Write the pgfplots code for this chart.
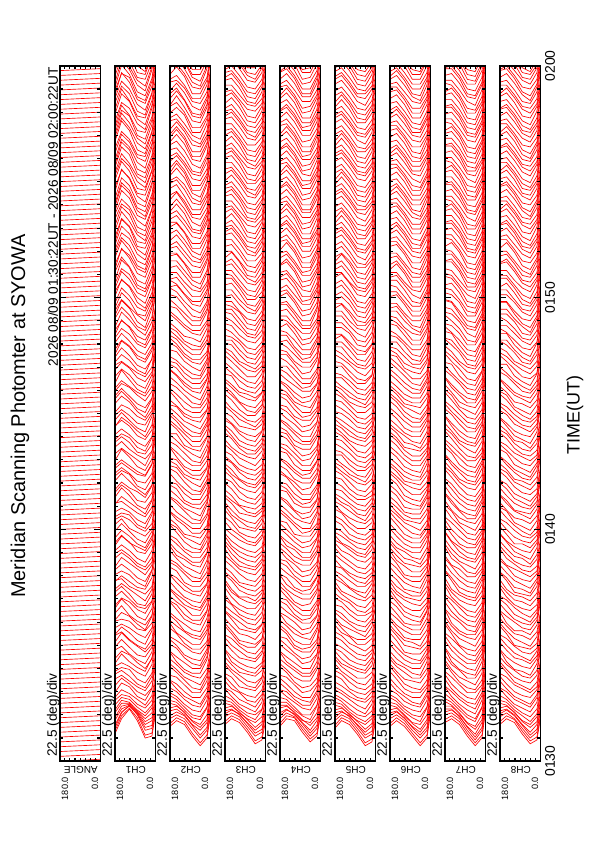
\documentclass[border=0pt]{standalone}
\usepackage{pgfplots}
\usepackage{pgfplotstable}
\pgfplotsset{compat=1.18}
\usepackage{fontspec}
\setmainfont{Liberation Sans}

% Each row is one scan; columns are the scan angles (deg).
% Values: deflection of the trace above its scan time, in units of 5 s.
% Tables ...a hold the scans at 0, 25, 50 s ...; tables ...b the scans 12.5 s later.
\pgfplotstableread[header=has colnames]{
180 150 115 80 45 15 0
14 22 27 21 12 13 24
12 20 24 19 11 12 22
11 17 19 15 9 11 21
10 15 15 11 7 10 22
9 13 12 8 5 9 20
8 12 10 7 4 9 19
9 13 10 6 4 8 21
10 12 9 5 3 9 20
9 11 9 6 4 10 22
8 12 10 6 3 8 19
9 13 9 5 4 9 20
10 12 8 5 3 8 21
9 11 9 6 4 9 18
8 12 10 6 3 10 20
9 14 10 5 3 9 22
10 13 9 5 4 8 20
9 12 9 6 3 9 19
8 11 8 5 4 10 21
9 12 9 5 3 9 20
10 13 10 6 4 8 22
9 12 9 5 3 9 19
8 12 8 6 4 10 20
9 13 9 5 3 9 21
10 12 10 6 4 8 20
9 11 9 5 3 9 22
8 12 9 6 3 10 19
9 13 10 5 4 9 20
10 14 10 6 3 8 21
9 12 9 5 4 9 20
8 11 8 5 3 9 22
9 12 9 6 3 10 19
10 13 10 5 4 9 21
9 12 9 5 3 8 20
8 13 10 6 3 9 22
9 12 9 5 4 10 20
10 14 11 6 3 9 21
9 13 9 5 3 8 19
8 12 9 6 4 9 20
9 13 10 5 3 10 22
10 12 9 6 4 9 21
9 14 10 5 3 8 20
8 13 10 5 3 9 22
9 14 11 6 4 10 21
8 13 10 5 3 9 20
9 15 11 5 3 10 23
8 14 10 6 3 11 22
7 15 11 5 3 10 24
8 14 11 5 2 11 22
7 15 12 5 3 10 23
8 16 11 4 2 11 25
7 15 12 5 3 12 23
8 16 12 4 2 11 24
7 17 13 5 2 12 25
6 16 12 4 3 11 23
7 17 13 4 2 12 24
8 16 12 5 2 11 25
7 18 14 5 2 12 23
6 17 13 4 2 13 24
7 16 12 4 3 12 25
8 17 13 5 2 11 24
7 18 14 4 2 12 23
6 17 13 5 2 13 25
7 16 12 4 3 12 24
8 18 13 5 2 11 23
7 17 14 4 2 12 25
6 16 13 5 2 13 24
7 18 12 4 3 12 23
8 17 13 5 2 11 25
7 16 14 4 2 12 24
6 18 13 5 2 13 23
7 17 12 4 3 12 25
8 16 13 5 2 11 24
}\rawAa
\pgfplotstableread[header=has colnames]{
180 150 115 80 45 15 0
13 21 25 20 11 12 23
11 18 21 17 10 11 22
10 16 17 13 8 10 21
9 14 13 9 6 10 21
9 12 11 7 5 9 19
8 13 11 6 4 10 21
10 12 9 6 4 9 20
9 11 10 5 3 8 22
8 13 9 6 4 11 19
10 12 8 5 3 9 21
9 14 10 7 4 8 20
8 12 9 5 3 10 23
10 11 10 6 5 9 19
9 13 8 5 3 8 21
8 12 10 6 4 10 20
10 13 9 4 3 9 22
11 12 8 6 4 8 19
9 11 9 5 3 11 21
8 13 10 7 4 9 23
10 12 9 5 3 8 20
9 14 11 6 5 10 21
8 12 9 5 3 9 19
10 13 8 6 4 8 22
9 11 10 5 3 10 20
11 12 9 6 4 9 21
9 14 10 5 3 8 23
8 12 9 7 4 10 20
10 13 11 5 3 9 21
9 12 9 6 5 11 19
8 14 10 5 3 9 22
10 13 9 6 4 8 20
9 12 10 5 3 10 21
11 14 11 6 4 9 23
9 13 9 5 3 11 20
8 12 10 6 4 9 22
10 14 10 5 3 10 21
9 13 11 7 4 9 20
8 15 10 5 3 10 23
10 14 11 6 4 9 21
9 13 10 5 3 11 22
8 15 12 6 4 10 20
9 14 10 5 3 9 23
8 16 12 5 3 11 22
7 15 11 6 3 10 24
8 16 12 5 2 12 23
7 15 11 4 3 11 25
8 17 13 5 2 10 23
7 16 12 5 3 12 24
6 17 13 4 2 11 25
7 18 13 5 3 12 23
8 17 12 4 2 13 24
7 16 13 5 2 12 25
6 18 14 4 3 11 24
7 17 12 5 2 12 23
8 16 13 4 2 13 25
7 18 14 5 3 12 24
6 17 13 4 2 11 23
7 19 14 5 2 12 25
8 18 13 4 3 13 24
7 17 12 5 2 12 23
6 18 14 4 2 11 25
7 17 13 5 3 12 24
8 19 14 4 2 13 23
7 18 13 5 2 12 25
6 17 12 4 3 11 24
7 18 14 5 2 12 23
8 17 13 4 2 13 25
7 19 14 5 3 12 24
6 18 13 4 2 11 23
7 17 12 5 2 12 25
8 18 14 4 3 13 24
7 17 13 5 2 12 23
}\rawAb
\pgfplotstableread[header=has colnames]{
180 150 115 80 45 15 0
18 21 19 13 8 12 23
17 19 17 12 7 11 21
16 17 14 9 6 10 22
15 14 10 6 4 9 20
14 12 8 4 3 8 19
13 11 7 4 3 9 18
12 10 6 3 3 8 19
14 11 7 3 2 9 18
13 10 6 4 3 8 17
12 9 6 3 3 9 19
13 10 5 3 2 8 18
14 11 6 3 3 7 20
13 10 7 4 3 8 18
12 9 6 3 2 9 17
13 11 6 3 3 8 19
14 10 6 4 3 9 18
13 9 5 3 2 8 20
12 10 6 3 3 7 18
13 11 7 3 3 8 19
14 10 6 4 2 9 17
13 9 6 3 3 8 18
12 10 5 3 3 9 20
13 11 6 4 2 8 19
14 10 7 3 3 7 18
13 9 6 3 3 8 17
12 10 6 4 2 9 19
13 11 5 3 3 8 18
14 10 6 3 3 9 20
13 12 7 4 2 8 18
12 11 6 3 3 7 19
13 10 6 3 3 8 17
14 11 7 4 2 9 18
15 12 7 3 3 8 20
14 11 6 3 3 9 19
13 10 6 4 2 8 18
12 9 5 3 3 7 17
13 10 6 3 3 8 19
14 11 7 4 2 9 18
13 10 6 3 3 8 20
12 11 6 3 3 9 18
13 12 7 4 2 8 19
14 11 6 3 3 7 17
13 10 6 3 3 8 18
12 9 5 4 2 9 20
13 10 6 3 3 8 19
14 11 7 3 3 9 18
15 13 8 4 2 8 20
14 12 7 3 3 9 19
13 13 8 4 3 8 21
14 14 9 4 2 9 20
13 13 8 3 3 10 22
12 14 9 4 3 9 20
13 15 10 4 2 10 21
14 14 9 3 3 9 22
13 15 10 4 3 10 20
12 16 11 4 2 9 21
13 15 10 3 3 10 22
14 16 11 4 3 9 20
13 17 12 4 2 10 21
12 16 11 3 3 9 22
13 15 10 4 3 10 20
14 16 11 4 2 9 21
13 17 12 3 3 10 22
12 16 11 4 3 9 20
13 15 10 4 2 10 21
14 16 11 3 3 9 22
13 17 12 4 3 10 20
12 16 11 4 2 9 21
13 15 10 3 3 10 22
14 16 11 4 3 9 20
13 17 12 4 2 10 21
12 16 11 3 3 9 22
}\rawBa
\pgfplotstableread[header=has colnames]{
180 150 115 80 45 15 0
17 20 18 12 7 11 22
16 18 16 11 6 10 21
15 16 13 8 5 9 20
14 13 9 5 4 10 21
13 11 7 4 3 9 19
14 10 6 4 2 8 18
12 11 7 3 3 9 20
13 10 6 4 2 8 17
14 9 5 3 3 10 19
13 11 6 3 2 9 18
12 10 7 4 3 8 20
14 9 6 3 3 9 17
13 10 5 3 2 8 19
15 11 6 4 3 10 18
13 10 7 3 3 9 20
12 9 6 3 2 8 18
14 10 6 4 3 9 19
13 11 5 3 3 8 17
12 10 6 3 2 9 20
14 9 7 4 3 10 18
13 10 6 3 3 8 19
15 11 6 3 2 9 21
13 10 5 4 3 8 18
12 9 6 3 3 9 17
14 11 7 3 2 10 19
13 10 6 4 3 8 20
12 11 6 3 3 9 18
14 12 7 3 2 8 19
13 11 6 4 3 9 21
15 10 5 3 3 8 18
13 11 7 3 2 9 17
12 12 6 4 3 10 19
14 11 7 3 3 9 20
13 10 6 3 2 8 18
12 11 6 4 3 9 19
14 10 5 3 3 8 17
13 11 7 3 2 9 20
15 12 7 4 3 10 18
13 11 6 3 3 8 19
12 10 6 3 2 9 21
14 12 7 4 3 8 18
13 11 6 3 3 9 17
12 10 5 3 2 8 19
14 11 7 4 3 9 20
13 12 7 3 3 10 19
14 13 8 3 2 9 21
13 14 9 4 3 10 20
12 13 8 3 3 9 22
13 14 9 4 2 10 21
14 15 10 3 3 11 20
13 14 9 4 3 10 22
12 15 10 4 2 9 21
14 16 11 3 3 10 20
13 15 10 4 3 11 22
12 16 11 3 2 10 21
13 17 11 4 3 9 23
14 16 10 3 3 10 21
13 15 11 4 2 11 22
12 17 12 3 3 10 20
13 16 11 4 3 9 21
14 15 10 3 2 10 23
13 17 12 4 3 11 21
12 16 11 3 3 10 22
14 15 10 4 2 9 20
13 16 12 3 3 10 21
12 17 11 4 3 11 23
13 16 10 3 2 10 22
14 15 11 4 3 9 20
13 17 12 3 3 10 21
12 16 11 4 2 11 23
13 15 10 3 3 10 22
14 17 12 4 3 9 20
}\rawBb
\pgfplotstableread[header=has colnames]{
180 150 115 80 45 15 0
19 22 20 15 9 11 20
18 20 18 13 8 10 19
16 17 14 10 6 9 18
15 14 10 7 5 8 17
14 12 8 5 4 7 16
13 11 7 5 3 8 17
14 10 6 4 3 7 15
15 11 7 4 3 8 16
14 10 6 5 4 7 17
13 9 6 4 3 6 16
14 10 7 4 3 7 15
15 11 6 4 4 8 17
14 10 6 5 3 7 16
13 10 7 4 3 6 15
14 11 6 4 3 7 17
15 10 6 4 4 8 16
14 9 5 5 3 7 15
13 10 6 4 3 6 17
14 11 7 4 3 7 16
15 10 6 5 4 8 15
14 10 6 4 3 7 17
13 9 6 4 3 6 16
14 10 7 4 3 7 15
15 11 6 5 4 8 17
14 10 6 4 3 7 16
13 10 7 4 3 6 15
14 11 6 4 3 7 17
15 12 7 5 4 8 16
14 11 6 4 3 7 15
13 10 6 4 3 6 17
14 11 7 5 3 7 16
15 12 7 4 4 8 15
14 11 6 4 3 7 17
13 10 6 4 3 6 16
14 11 7 5 3 7 15
15 12 7 4 4 8 17
14 11 6 4 3 7 16
13 10 6 5 3 6 15
14 11 7 4 3 7 17
15 12 8 4 4 8 16
14 12 7 5 3 7 17
13 13 8 4 3 8 18
14 12 8 4 3 7 17
15 13 9 5 4 8 18
14 14 9 4 3 9 19
13 13 8 4 3 8 18
14 14 9 5 3 9 19
15 15 10 4 4 8 18
14 14 9 4 3 9 19
13 15 10 5 3 8 18
14 14 9 4 3 9 19
15 15 10 4 4 8 18
14 16 11 5 3 9 19
13 15 10 4 3 8 18
14 16 11 4 3 9 19
15 15 10 5 4 8 18
14 16 11 4 3 9 19
13 15 10 4 3 8 18
14 16 11 5 3 9 19
15 15 10 4 4 8 18
14 16 11 4 3 9 19
13 15 10 5 3 8 18
14 16 11 4 3 9 19
15 15 10 4 4 8 18
14 16 11 5 3 9 19
13 15 10 4 3 8 18
14 16 11 4 3 9 19
15 15 10 5 4 8 18
14 16 11 4 3 9 19
13 15 10 4 3 8 18
14 16 11 5 3 9 19
15 15 10 4 4 8 18
}\rawCa
\pgfplotstableread[header=has colnames]{
180 150 115 80 45 15 0
18 21 19 14 8 10 21
17 19 17 12 7 9 18
15 16 13 9 5 8 19
14 13 9 6 4 9 16
15 11 7 5 3 8 17
14 10 8 4 3 7 16
13 11 6 5 4 8 15
14 10 7 4 3 6 17
15 9 6 4 3 7 16
14 10 6 5 4 8 15
13 11 7 4 3 7 17
14 10 5 4 3 6 16
15 11 6 5 4 8 15
13 10 7 4 3 7 17
14 9 6 4 3 8 16
15 10 7 5 4 7 15
14 11 6 4 3 6 17
13 10 5 4 3 7 16
14 11 7 5 4 8 15
15 10 6 4 3 7 17
14 9 6 4 3 6 16
13 10 7 5 4 8 15
14 11 6 4 3 7 17
15 10 7 4 3 8 16
14 11 6 5 4 7 15
13 10 5 4 3 6 17
14 12 7 4 3 7 16
15 11 8 5 4 8 15
14 12 7 4 3 7 17
13 11 6 4 3 6 16
14 10 7 5 4 8 15
15 11 6 4 3 7 17
14 12 7 4 3 8 16
13 11 6 5 4 7 15
14 10 7 4 3 6 17
15 12 8 4 3 7 16
14 11 7 5 4 8 15
13 12 6 4 3 7 17
14 11 7 4 3 8 16
15 12 8 5 4 7 17
14 13 8 4 3 8 18
13 12 9 4 3 7 17
14 13 8 5 4 8 18
15 14 9 4 3 9 19
14 13 10 4 3 8 18
13 14 9 5 4 9 19
14 15 10 4 3 8 18
15 14 9 4 3 9 19
14 15 10 5 4 8 18
13 16 11 4 3 9 19
14 15 10 4 3 8 18
15 16 11 5 4 9 19
14 15 10 4 3 8 18
13 16 11 4 3 9 19
14 15 10 5 4 8 18
15 16 11 4 3 9 19
14 15 10 4 3 8 18
13 16 11 5 4 9 19
14 15 10 4 3 8 18
15 16 11 4 3 9 19
14 15 10 5 4 8 18
13 16 11 4 3 9 19
14 15 10 4 3 8 18
15 16 11 5 4 9 19
14 15 10 4 3 8 18
13 16 11 4 3 9 19
14 15 10 5 4 8 18
15 16 11 4 3 9 19
14 15 10 4 3 8 18
13 16 11 5 4 9 19
14 15 10 4 3 8 18
15 16 11 4 3 9 19
}\rawCb
\pgfplotstableread[header=has colnames]{
180 150 115 80 45 15 0
18 22 21 15 10 13 23
17 20 18 13 8 12 21
15 17 14 10 6 11 20
14 14 10 6 5 10 19
13 12 8 4 4 9 18
12 11 7 4 4 10 19
13 10 6 3 3 9 18
14 11 6 3 4 8 17
13 10 7 4 4 9 19
12 9 6 3 3 10 18
13 10 6 3 4 9 20
14 11 5 3 4 8 18
13 10 6 4 3 9 17
12 10 7 3 4 10 19
13 11 6 3 4 9 18
14 10 6 3 3 8 20
13 9 6 4 4 9 18
12 10 5 3 4 10 17
13 11 6 3 3 9 19
14 10 7 3 4 8 18
13 10 6 4 4 9 20
12 9 6 3 3 10 18
13 10 6 3 4 9 17
14 11 7 3 4 8 19
13 10 6 4 3 9 18
12 10 5 3 4 10 20
13 11 6 3 4 9 18
14 12 7 3 3 8 17
13 11 6 4 4 9 19
12 10 6 3 4 10 18
13 11 7 3 3 9 20
14 12 7 3 4 8 18
13 11 6 4 4 9 17
12 10 6 3 3 10 19
13 11 7 3 4 9 18
14 12 7 3 4 8 20
13 11 6 4 3 9 18
12 10 6 3 4 10 17
13 11 7 3 4 9 19
14 12 8 3 3 8 18
13 12 7 4 4 9 20
12 13 8 3 4 10 19
13 12 8 3 3 9 20
14 13 9 3 4 10 21
13 14 9 4 4 9 20
12 13 8 3 3 10 21
13 14 9 3 4 11 22
14 15 10 3 4 10 21
13 14 9 4 3 11 20
12 15 10 3 4 10 22
13 14 9 3 4 11 21
14 15 10 3 3 10 20
13 16 11 4 4 11 22
12 15 10 3 4 10 21
13 16 11 3 3 11 20
14 15 10 3 4 10 22
13 16 11 4 4 11 21
12 15 10 3 3 10 20
13 16 11 3 4 11 22
14 15 10 3 4 10 21
13 16 11 4 3 11 20
12 15 10 3 4 10 22
13 16 11 3 4 11 21
14 15 10 3 3 10 20
13 16 11 4 4 11 22
12 15 10 3 4 10 21
13 16 11 3 3 11 20
14 15 10 3 4 10 22
13 16 11 4 4 11 21
12 15 10 3 3 10 20
13 16 11 3 4 11 22
14 15 10 3 4 10 21
}\rawDa
\pgfplotstableread[header=has colnames]{
180 150 115 80 45 15 0
17 21 20 14 9 12 22
16 19 17 12 7 11 20
15 16 13 9 6 10 21
13 13 9 6 4 11 19
14 11 8 5 4 10 18
13 10 6 4 3 9 20
12 11 7 3 4 8 18
13 10 6 4 4 10 17
14 9 6 3 3 9 19
13 10 7 3 4 8 18
12 11 6 4 4 9 20
13 10 5 3 3 10 18
14 9 6 3 4 9 17
13 10 7 4 4 8 19
12 11 6 3 3 9 18
13 10 5 3 4 10 20
14 9 6 4 4 9 18
13 10 7 3 3 8 17
12 11 6 3 4 9 19
13 10 6 4 4 10 18
14 9 7 3 3 9 20
13 10 6 3 4 8 18
12 11 5 4 4 9 17
13 10 6 3 3 10 19
14 11 7 3 4 9 18
13 12 6 4 4 8 20
12 11 6 3 3 9 18
13 10 7 3 4 10 17
14 11 7 4 4 9 19
13 12 6 3 3 8 18
12 11 7 3 4 9 20
13 12 6 4 4 10 18
14 11 7 3 3 9 17
13 10 7 3 4 8 19
12 11 6 4 4 9 18
13 12 7 3 3 10 20
14 11 6 3 4 9 18
13 10 7 4 4 8 17
12 12 7 3 3 9 19
13 13 8 3 4 10 20
14 12 8 4 4 9 19
13 13 7 3 3 10 21
12 14 9 3 4 9 20
13 13 8 4 4 10 21
14 14 9 3 3 11 22
13 15 10 3 4 10 21
12 14 9 4 4 11 20
13 15 10 3 3 10 22
14 16 11 3 4 11 21
13 15 10 4 4 10 20
12 16 11 3 3 11 22
13 15 10 3 4 10 21
14 16 11 4 4 11 20
13 15 10 3 3 10 22
12 16 11 3 4 11 21
13 15 10 4 4 10 20
14 16 11 3 3 11 22
13 15 10 3 4 10 21
12 16 11 4 4 11 20
13 15 10 3 3 10 22
14 16 11 3 4 11 21
13 15 10 4 4 10 20
12 16 11 3 3 11 22
13 15 10 3 4 10 21
14 16 11 4 4 11 20
13 15 10 3 3 10 22
12 16 11 3 4 11 21
13 15 10 4 4 10 20
14 16 11 3 3 11 22
13 15 10 3 4 10 21
12 16 11 4 4 11 20
}\rawDb
\pgfplotstableread[header=has colnames]{
180 150 115 80 45 15 0
17 21 19 14 8 10 20
16 19 17 12 7 9 19
15 16 13 9 5 8 18
14 13 9 6 4 7 17
13 11 7 4 3 6 16
12 10 7 4 2 7 15
11 9 6 3 2 6 16
12 10 6 3 2 5 15
13 9 6 3 3 6 14
12 8 5 3 2 7 16
11 9 6 3 2 6 15
12 10 6 4 2 5 17
13 9 5 3 3 6 15
12 9 6 3 2 7 14
11 10 6 3 2 6 16
12 9 7 3 2 5 15
13 8 6 4 3 6 17
12 9 5 3 2 7 15
11 10 6 3 2 6 14
12 9 6 3 2 5 16
13 9 7 4 3 6 15
12 8 6 3 2 7 17
11 9 5 3 2 6 15
12 10 6 3 2 5 14
13 9 6 4 3 6 16
12 9 7 3 2 7 15
11 10 6 3 2 6 17
12 11 6 3 2 5 15
13 10 7 4 3 6 14
12 9 6 3 2 7 16
11 10 6 3 2 6 15
12 11 7 3 2 5 17
13 10 6 4 3 6 15
12 9 6 3 2 7 14
11 10 7 3 2 6 16
12 11 7 3 2 5 15
13 10 6 4 3 6 17
12 9 6 3 2 7 15
11 10 7 3 2 6 14
12 11 7 3 2 5 16
13 11 7 4 3 6 15
12 12 8 3 2 7 17
11 11 7 3 2 6 16
12 12 8 3 2 7 17
13 13 8 4 3 8 18
12 12 8 3 2 7 17
11 13 9 3 2 8 18
12 14 9 3 2 7 17
13 13 8 4 3 8 18
12 14 9 3 2 7 17
11 13 9 3 2 8 18
12 14 9 3 2 7 17
13 15 10 4 3 8 18
12 14 9 3 2 7 17
11 15 10 3 2 8 18
12 14 9 3 2 7 17
13 15 10 4 3 8 18
12 14 9 3 2 7 17
11 15 10 3 2 8 18
12 14 9 3 2 7 17
13 15 10 4 3 8 18
12 14 9 3 2 7 17
11 15 10 3 2 8 18
12 14 9 3 2 7 17
13 15 10 4 3 8 18
12 14 9 3 2 7 17
11 15 10 3 2 8 18
12 14 9 3 2 7 17
13 15 10 4 3 8 18
12 14 9 3 2 7 17
11 15 10 3 2 8 18
12 14 9 3 2 7 17
}\rawEa
\pgfplotstableread[header=has colnames]{
180 150 115 80 45 15 0
16 20 18 13 7 9 19
15 18 16 11 6 8 18
14 15 12 8 4 7 17
13 12 8 5 3 6 16
12 10 7 4 2 7 15
11 9 6 4 3 6 16
12 10 5 3 2 5 14
13 9 6 3 2 6 16
12 8 6 4 3 7 15
11 9 5 3 2 6 14
12 10 6 3 2 5 16
13 9 7 3 3 6 15
12 8 6 4 2 7 17
11 9 5 3 2 6 15
12 10 6 3 3 5 14
13 9 6 3 2 6 16
12 10 7 4 2 7 15
11 9 6 3 3 6 17
12 8 5 3 2 5 15
13 9 6 3 2 6 14
12 10 7 4 3 7 16
11 9 6 3 2 6 15
12 10 5 3 2 5 17
13 11 6 3 3 6 15
12 10 7 4 2 7 14
11 9 6 3 2 6 16
12 10 6 3 3 5 15
13 11 7 3 2 6 17
12 10 6 4 2 7 15
11 11 6 3 3 6 14
12 10 7 3 2 5 16
13 11 7 3 2 6 15
12 10 6 4 3 7 17
11 9 6 3 2 6 15
12 10 7 3 2 5 14
13 11 7 3 3 6 16
12 10 6 4 2 7 15
11 11 7 3 2 6 17
12 12 7 3 3 7 16
13 11 8 4 2 6 17
12 12 7 3 2 7 16
11 13 8 3 3 8 17
12 12 9 3 2 7 18
13 13 8 4 2 8 17
12 14 9 3 3 7 18
11 13 9 3 2 8 17
12 14 9 3 2 7 18
13 15 10 4 3 8 17
12 14 9 3 2 7 18
11 15 10 3 2 8 17
12 14 9 3 3 7 18
13 15 10 4 2 8 17
12 14 9 3 2 7 18
11 15 10 3 3 8 17
12 14 9 3 2 7 18
13 15 10 4 2 8 17
12 14 9 3 3 7 18
11 15 10 3 2 8 17
12 14 9 3 2 7 18
13 15 10 4 3 8 17
12 14 9 3 2 7 18
11 15 10 3 2 8 17
12 14 9 3 3 7 18
13 15 10 4 2 8 17
12 14 9 3 2 7 18
11 15 10 3 3 8 17
12 14 9 3 2 7 18
13 15 10 4 2 8 17
12 14 9 3 3 7 18
11 15 10 3 2 8 17
12 14 9 3 2 7 18
}\rawEb
\pgfplotstableread[header=has colnames]{
180 150 115 80 45 15 0
18 21 18 13 8 12 24
17 19 16 11 7 11 22
15 16 12 8 5 10 21
14 13 9 5 4 9 20
13 11 7 4 3 8 19
12 10 6 4 3 9 20
13 9 5 3 3 8 19
14 10 5 3 2 7 18
13 9 6 3 3 8 20
12 8 5 3 3 9 19
13 9 5 3 2 8 21
14 10 5 4 3 7 19
13 9 4 3 3 8 18
12 9 5 3 3 9 20
13 10 5 3 2 8 19
14 9 5 3 3 7 21
13 8 5 4 3 8 19
12 9 4 3 2 9 18
13 10 5 3 3 8 20
14 9 6 3 3 7 19
13 9 5 4 2 8 21
12 8 5 3 3 9 19
13 9 5 3 3 8 18
14 10 6 3 2 7 20
13 9 5 4 3 8 19
12 9 4 3 3 9 21
13 10 5 3 2 8 19
14 11 6 3 3 7 18
13 10 5 4 3 8 20
12 9 5 3 2 9 19
13 10 6 3 3 8 21
14 11 6 3 3 7 19
13 10 5 4 2 8 18
12 9 5 3 3 9 20
13 10 6 3 3 8 19
14 11 6 3 2 7 21
13 10 5 4 3 8 19
12 9 5 3 3 9 18
13 10 6 3 2 8 20
14 11 7 3 3 7 19
13 11 6 4 3 8 21
12 12 7 3 2 9 20
13 11 7 3 3 8 21
14 12 8 3 3 9 22
13 13 8 4 2 10 21
12 12 7 3 3 9 22
13 13 8 3 3 10 23
14 14 9 3 2 9 22
13 13 8 4 3 10 21
12 14 9 3 3 9 23
13 13 8 3 2 10 22
14 14 9 3 3 9 21
13 15 10 4 3 10 23
12 14 9 3 2 9 22
13 15 10 3 3 10 21
14 14 9 3 3 9 23
13 15 10 4 2 10 22
12 14 9 3 3 9 21
13 15 10 3 3 10 23
14 14 9 3 2 9 22
13 15 10 4 3 10 21
12 14 9 3 3 9 23
13 15 10 3 2 10 22
14 14 9 3 3 9 21
13 15 10 4 3 10 23
12 14 9 3 2 9 22
13 15 10 3 3 10 21
14 14 9 3 3 9 23
13 15 10 4 2 10 22
12 14 9 3 3 9 21
13 15 10 3 3 10 23
14 14 9 3 2 9 22
}\rawFa
\pgfplotstableread[header=has colnames]{
180 150 115 80 45 15 0
17 20 17 12 7 11 23
16 18 15 10 6 10 21
14 15 11 7 4 9 22
13 12 8 5 3 10 20
12 10 6 4 3 9 19
13 9 6 3 2 8 21
14 10 5 3 3 7 19
13 9 5 4 3 8 18
12 8 6 3 2 9 20
13 9 5 3 3 8 22
14 10 4 3 3 7 19
13 9 5 4 2 8 18
12 8 5 3 3 9 20
13 9 4 3 3 10 21
14 10 5 3 2 8 19
13 9 6 4 3 7 18
12 8 5 3 3 8 20
13 9 5 3 2 9 22
14 10 4 3 3 8 19
13 9 5 4 3 7 18
12 8 6 3 2 8 20
13 9 5 3 3 9 21
14 10 5 3 3 8 19
13 10 6 4 2 7 18
12 9 5 3 3 8 20
13 10 4 3 3 9 22
14 11 5 3 2 8 19
13 10 6 4 3 7 18
12 9 5 3 3 8 20
13 10 5 3 2 9 21
14 11 6 3 3 8 19
13 10 5 4 3 7 18
12 9 6 3 2 8 20
13 10 5 3 3 9 22
14 11 6 3 3 8 19
13 10 6 4 2 7 18
12 9 5 3 3 8 20
13 10 6 3 3 9 21
14 11 7 3 2 8 19
13 12 6 4 3 9 21
12 11 7 3 3 8 20
13 12 8 3 2 9 22
14 13 8 3 3 10 21
13 12 7 4 3 9 22
12 13 8 3 2 10 23
13 14 9 3 3 9 22
14 13 8 3 3 10 21
13 14 9 4 2 9 23
12 15 10 3 3 10 22
13 14 9 3 3 9 21
14 15 10 3 2 10 23
13 14 9 4 3 9 22
12 15 10 3 3 10 21
13 14 9 3 2 9 23
14 15 10 3 3 10 22
13 14 9 4 3 9 21
12 15 10 3 2 10 23
13 14 9 3 3 9 22
14 15 10 3 3 10 21
13 14 9 4 2 9 23
12 15 10 3 3 10 22
13 14 9 3 3 9 21
14 15 10 3 2 10 23
13 14 9 4 3 9 22
12 15 10 3 3 10 21
13 14 9 3 2 9 23
14 15 10 3 3 10 22
13 14 9 4 3 9 21
12 15 10 3 2 10 23
13 14 9 3 3 9 22
14 15 10 3 3 10 21
}\rawFb
\pgfplotstableread[header=has colnames]{
180 150 115 80 45 15 0
20 22 19 13 8 12 25
19 20 17 11 6 11 24
17 17 13 8 4 10 23
16 14 10 5 3 9 22
15 12 8 4 2 8 21
14 11 7 4 2 9 22
15 10 6 3 2 8 21
16 11 6 3 2 7 20
15 10 7 3 3 8 22
14 9 6 3 2 9 21
15 10 6 3 2 8 23
16 11 5 3 2 7 21
15 10 6 4 3 8 20
14 10 7 3 2 9 22
15 11 6 3 2 8 21
16 10 6 3 2 7 23
15 9 6 4 3 8 21
14 10 5 3 2 9 20
15 11 6 3 2 8 22
16 10 7 3 2 7 21
15 10 6 4 3 8 23
14 9 6 3 2 9 21
15 10 6 3 2 8 20
16 11 7 3 2 7 22
15 10 6 4 3 8 21
14 10 5 3 2 9 23
15 11 6 3 2 8 21
16 12 7 3 2 7 20
15 11 6 4 3 8 22
14 10 6 3 2 9 21
15 11 7 3 2 8 23
16 12 7 3 2 7 21
15 11 6 4 3 8 20
14 10 6 3 2 9 22
15 11 7 3 2 8 21
16 12 7 3 2 7 23
15 11 6 4 3 8 21
14 10 6 3 2 9 20
15 11 7 3 2 8 22
16 12 8 3 2 7 21
15 12 7 4 3 8 23
14 13 8 3 2 9 22
15 12 8 3 2 8 23
16 13 9 3 2 9 24
15 14 9 4 3 10 23
14 13 8 3 2 9 24
15 14 9 3 2 10 25
16 15 10 3 2 9 24
15 14 9 4 3 10 23
14 15 10 3 2 9 25
15 14 9 3 2 10 24
16 15 10 3 2 9 23
15 16 11 4 3 10 25
14 15 10 3 2 9 24
15 16 11 3 2 10 23
16 15 10 3 2 9 25
15 16 11 4 3 10 24
14 15 10 3 2 9 23
15 16 11 3 2 10 25
16 15 10 3 2 9 24
15 16 11 4 3 10 23
14 15 10 3 2 9 25
15 16 11 3 2 10 24
16 15 10 3 2 9 23
15 16 11 4 3 10 25
14 15 10 3 2 9 24
15 16 11 3 2 10 23
16 15 10 3 2 9 25
15 16 11 4 3 10 24
14 15 10 3 2 9 23
15 16 11 3 2 10 25
16 15 10 3 2 9 24
}\rawGa
\pgfplotstableread[header=has colnames]{
180 150 115 80 45 15 0
19 21 18 12 7 11 24
18 19 16 10 5 10 23
16 16 12 7 4 9 22
15 13 9 5 3 10 21
16 11 7 4 2 9 22
15 10 6 3 2 8 20
14 11 7 3 3 7 21
15 10 6 4 2 8 23
16 9 5 3 2 9 21
15 10 6 3 3 8 20
14 11 7 3 2 7 22
15 10 6 4 2 8 21
16 9 5 3 3 9 23
15 10 6 3 2 8 21
14 11 7 3 2 7 20
15 10 6 4 3 8 22
16 11 5 3 2 9 21
15 10 6 3 2 8 23
14 9 7 3 3 7 21
15 10 6 4 2 8 20
16 11 6 3 2 9 22
15 10 5 3 3 8 21
14 11 7 3 2 7 23
15 12 6 4 2 8 21
16 11 7 3 3 9 20
15 10 6 3 2 8 22
14 11 6 3 2 7 21
15 12 7 4 3 8 23
16 11 7 3 2 9 21
15 12 6 3 2 8 20
14 11 7 3 3 7 22
15 12 7 4 2 8 21
16 11 6 3 2 9 23
15 12 7 3 3 8 21
14 11 7 3 2 7 20
15 12 6 4 2 8 22
16 11 7 3 3 9 21
15 12 8 3 2 8 23
14 13 7 3 2 9 22
15 12 8 4 3 8 23
16 13 9 3 2 9 24
15 14 8 3 2 10 23
14 13 9 3 3 9 24
15 14 10 4 2 10 25
16 15 9 3 2 9 24
15 14 10 3 3 10 23
14 15 10 3 2 9 25
15 14 9 4 2 10 24
16 16 11 3 3 9 23
15 15 10 3 2 10 25
14 16 11 3 2 9 24
15 15 10 4 3 10 23
16 16 11 3 2 9 25
15 15 10 3 2 10 24
14 16 11 3 3 9 23
15 15 10 4 2 10 25
16 16 11 3 2 9 24
15 15 10 3 3 10 23
14 16 11 3 2 9 25
15 15 10 4 2 10 24
16 16 11 3 3 9 23
15 15 10 3 2 10 25
14 16 11 3 2 9 24
15 15 10 4 3 10 23
16 16 11 3 2 9 25
15 15 10 3 2 10 24
14 16 11 3 3 9 23
15 15 10 4 2 10 25
16 16 11 3 2 9 24
15 15 10 3 3 10 23
14 16 11 3 2 9 25
}\rawGb
\pgfplotstableread[header=has colnames]{
180 150 115 80 45 15 0
19 22 20 14 9 11 22
18 20 17 12 7 10 21
16 17 14 9 5 9 20
15 14 10 6 4 8 19
14 12 8 5 3 7 18
13 11 7 5 3 8 19
14 10 6 4 3 7 18
15 11 6 4 2 6 17
14 10 7 4 3 7 19
13 9 6 4 3 8 18
14 10 6 4 2 7 20
15 11 5 4 3 6 18
14 10 6 5 3 7 17
13 10 7 4 3 8 19
14 11 6 4 2 7 18
15 10 6 4 3 6 20
14 9 6 5 3 7 18
13 10 5 4 2 8 17
14 11 6 4 3 7 19
15 10 7 4 3 6 18
14 10 6 5 2 7 20
13 9 6 4 3 8 18
14 10 6 4 3 7 17
15 11 7 4 2 6 19
14 10 6 5 3 7 18
13 10 5 4 3 8 20
14 11 6 4 2 7 18
15 12 7 4 3 6 17
14 11 6 5 3 7 19
13 10 6 4 2 8 18
14 11 7 4 3 7 20
15 12 7 4 3 6 18
14 11 6 5 2 7 17
13 10 6 4 3 8 19
14 11 7 4 3 7 18
15 12 7 4 2 6 20
14 11 6 5 3 7 18
13 10 6 4 3 8 17
14 11 7 4 2 7 19
15 12 8 4 3 6 18
14 12 7 5 3 7 20
13 13 8 4 2 8 19
14 12 8 4 3 7 20
15 13 9 4 3 8 21
14 14 9 5 2 9 20
13 13 8 4 3 8 21
14 14 9 4 3 9 22
15 15 10 4 2 8 21
14 14 9 5 3 9 20
13 15 10 4 3 8 22
14 14 9 4 2 9 21
15 15 10 4 3 8 20
14 16 11 5 3 9 22
13 15 10 4 2 8 21
14 16 11 4 3 9 20
15 15 10 4 3 8 22
14 16 11 5 2 9 21
13 15 10 4 3 8 20
14 16 11 4 3 9 22
15 15 10 4 2 8 21
14 16 11 5 3 9 20
13 15 10 4 3 8 22
14 16 11 4 2 9 21
15 15 10 4 3 8 20
14 16 11 5 3 9 22
13 15 10 4 2 8 21
14 16 11 4 3 9 20
15 15 10 4 3 8 22
14 16 11 5 2 9 21
13 15 10 4 3 8 20
14 16 11 4 3 9 22
15 15 10 4 2 8 21
}\rawHa
\pgfplotstableread[header=has colnames]{
180 150 115 80 45 15 0
18 21 19 13 8 10 21
17 19 16 11 6 9 20
15 16 13 8 5 8 19
14 13 9 6 3 7 18
15 11 7 5 3 8 19
14 10 6 4 2 7 17
13 11 7 5 3 6 18
14 10 6 4 3 7 20
15 9 5 4 2 8 18
14 10 6 5 3 7 17
13 11 7 4 3 6 19
14 10 6 4 2 7 18
15 9 5 5 3 8 20
14 10 6 4 3 7 18
13 11 7 4 2 6 17
14 10 6 5 3 7 19
15 11 5 4 3 8 18
14 10 6 4 2 7 20
13 9 7 5 3 6 18
14 10 6 4 3 7 17
15 11 6 4 2 8 19
14 10 5 5 3 7 18
13 11 7 4 3 6 20
14 12 6 4 2 7 18
15 11 7 5 3 8 17
14 10 6 4 3 7 19
13 11 6 4 2 6 18
14 12 7 5 3 7 20
15 11 7 4 3 8 18
14 12 6 4 2 7 17
13 11 7 5 3 6 19
14 12 7 4 3 7 18
15 11 6 4 2 8 20
14 12 7 5 3 7 18
13 11 7 4 3 6 17
14 12 6 4 2 7 19
15 11 7 5 3 8 18
14 12 8 4 3 7 20
13 13 7 4 2 8 19
14 12 8 5 3 7 20
15 13 9 4 3 8 21
14 14 8 4 2 9 20
13 13 9 5 3 8 21
14 14 10 4 3 9 22
15 15 9 4 2 8 21
14 14 10 5 3 9 20
13 15 10 4 3 8 22
14 14 9 4 2 9 21
15 16 11 5 3 8 20
14 15 10 4 3 9 22
13 16 11 4 2 8 21
14 15 10 5 3 9 20
15 16 11 4 3 8 22
14 15 10 4 2 9 21
13 16 11 5 3 8 20
14 15 10 4 3 9 22
15 16 11 4 2 8 21
14 15 10 5 3 9 20
13 16 11 4 3 8 22
14 15 10 4 2 9 21
15 16 11 5 3 8 20
14 15 10 4 3 9 22
13 16 11 4 2 8 21
14 15 10 5 3 9 20
15 16 11 4 3 8 22
14 15 10 4 2 9 21
13 16 11 5 3 8 20
14 15 10 4 3 9 22
15 16 11 4 2 8 21
14 15 10 5 3 9 20
13 16 11 4 3 8 22
}\rawHb
\pgfplotstabletranspose[input colnames to=a]{\tabAa}{\rawAa}
\pgfplotstabletranspose[input colnames to=a]{\tabAb}{\rawAb}
\pgfplotstabletranspose[input colnames to=a]{\tabBa}{\rawBa}
\pgfplotstabletranspose[input colnames to=a]{\tabBb}{\rawBb}
\pgfplotstabletranspose[input colnames to=a]{\tabCa}{\rawCa}
\pgfplotstabletranspose[input colnames to=a]{\tabCb}{\rawCb}
\pgfplotstabletranspose[input colnames to=a]{\tabDa}{\rawDa}
\pgfplotstabletranspose[input colnames to=a]{\tabDb}{\rawDb}
\pgfplotstabletranspose[input colnames to=a]{\tabEa}{\rawEa}
\pgfplotstabletranspose[input colnames to=a]{\tabEb}{\rawEb}
\pgfplotstabletranspose[input colnames to=a]{\tabFa}{\rawFa}
\pgfplotstabletranspose[input colnames to=a]{\tabFb}{\rawFb}
\pgfplotstabletranspose[input colnames to=a]{\tabGa}{\rawGa}
\pgfplotstabletranspose[input colnames to=a]{\tabGb}{\rawGb}
\pgfplotstabletranspose[input colnames to=a]{\tabHa}{\rawHa}
\pgfplotstabletranspose[input colnames to=a]{\tabHb}{\rawHb}

\pgfplotsset{
  msp/.style={
    scale only axis, width=40.5bp, height=695.4bp,
    anchor=south west, at={(#1bp,80.8bp)},
    xmin=0, xmax=180, ymin=0, ymax=360, x dir=reverse,
    xtick={0,180}, minor xtick={22.5,45,67.5,90,112.5,135,157.5},
    ytick={0,120,240,360}, minor ytick={12,24,...,348},
    xticklabels={}, yticklabels={},
    tick align=inside, major tick length=6bp, minor tick length=3.5bp,
    every tick/.style={black, line width=1.1pt},
    axis line style={line width=1.6pt, black},
    axis on top, clip=true,
  }
}
% scan k of a table is plotted at its scan time (5k + offset, units of 5 s) plus its deflection
\newcommand\curves[2]{%
  \pgfplotstablegetcolsof{#1}%
  \pgfmathtruncatemacro\lastc{\pgfplotsretval-2}%
  \pgfplotsinvokeforeach{0,...,\lastc}{%
    \addplot[red, line width=0.65pt] table[x=a, y expr=\thisrow{##1}+5*##1+#2]{#1};}%
}

\begin{document}
\begin{tikzpicture}
\path[use as bounding box] (0,0) rectangle (595bp,842bp);

% ANGLE: one sweep from 180 to 0 deg every 12.5 s (units of 5 s)
\begin{axis}[msp=59.8, unbounded coords=jump]
\addplot[red, line width=0.65pt] coordinates {
(180,0)(0,1)(0,nan)(180,2.5)(0,3.5)(0,nan)(180,5)(0,6)(0,nan)(180,7.5)(0,8.5)(0,nan)
(180,10)(0,11)(0,nan)(180,12.5)(0,13.5)(0,nan)(180,15)(0,16)(0,nan)(180,17.5)(0,18.5)(0,nan)
(180,20)(0,21)(0,nan)(180,22.5)(0,23.5)(0,nan)(180,25)(0,26)(0,nan)(180,27.5)(0,28.5)(0,nan)
(180,30)(0,31)(0,nan)(180,32.5)(0,33.5)(0,nan)(180,35)(0,36)(0,nan)(180,37.5)(0,38.5)(0,nan)
(180,40)(0,41)(0,nan)(180,42.5)(0,43.5)(0,nan)(180,45)(0,46)(0,nan)(180,47.5)(0,48.5)(0,nan)
(180,50)(0,51)(0,nan)(180,52.5)(0,53.5)(0,nan)(180,55)(0,56)(0,nan)(180,57.5)(0,58.5)(0,nan)
(180,60)(0,61)(0,nan)(180,62.5)(0,63.5)(0,nan)(180,65)(0,66)(0,nan)(180,67.5)(0,68.5)(0,nan)
(180,70)(0,71)(0,nan)(180,72.5)(0,73.5)(0,nan)(180,75)(0,76)(0,nan)(180,77.5)(0,78.5)(0,nan)
(180,80)(0,81)(0,nan)(180,82.5)(0,83.5)(0,nan)(180,85)(0,86)(0,nan)(180,87.5)(0,88.5)(0,nan)
(180,90)(0,91)(0,nan)(180,92.5)(0,93.5)(0,nan)(180,95)(0,96)(0,nan)(180,97.5)(0,98.5)(0,nan)
(180,100)(0,101)(0,nan)(180,102.5)(0,103.5)(0,nan)(180,105)(0,106)(0,nan)(180,107.5)(0,108.5)(0,nan)
(180,110)(0,111)(0,nan)(180,112.5)(0,113.5)(0,nan)(180,115)(0,116)(0,nan)(180,117.5)(0,118.5)(0,nan)
(180,120)(0,121)(0,nan)(180,122.5)(0,123.5)(0,nan)(180,125)(0,126)(0,nan)(180,127.5)(0,128.5)(0,nan)
(180,130)(0,131)(0,nan)(180,132.5)(0,133.5)(0,nan)(180,135)(0,136)(0,nan)(180,137.5)(0,138.5)(0,nan)
(180,140)(0,141)(0,nan)(180,142.5)(0,143.5)(0,nan)(180,145)(0,146)(0,nan)(180,147.5)(0,148.5)(0,nan)
(180,150)(0,151)(0,nan)(180,152.5)(0,153.5)(0,nan)(180,155)(0,156)(0,nan)(180,157.5)(0,158.5)(0,nan)
(180,160)(0,161)(0,nan)(180,162.5)(0,163.5)(0,nan)(180,165)(0,166)(0,nan)(180,167.5)(0,168.5)(0,nan)
(180,170)(0,171)(0,nan)(180,172.5)(0,173.5)(0,nan)(180,175)(0,176)(0,nan)(180,177.5)(0,178.5)(0,nan)
(180,180)(0,181)(0,nan)(180,182.5)(0,183.5)(0,nan)(180,185)(0,186)(0,nan)(180,187.5)(0,188.5)(0,nan)
(180,190)(0,191)(0,nan)(180,192.5)(0,193.5)(0,nan)(180,195)(0,196)(0,nan)(180,197.5)(0,198.5)(0,nan)
(180,200)(0,201)(0,nan)(180,202.5)(0,203.5)(0,nan)(180,205)(0,206)(0,nan)(180,207.5)(0,208.5)(0,nan)
(180,210)(0,211)(0,nan)(180,212.5)(0,213.5)(0,nan)(180,215)(0,216)(0,nan)(180,217.5)(0,218.5)(0,nan)
(180,220)(0,221)(0,nan)(180,222.5)(0,223.5)(0,nan)(180,225)(0,226)(0,nan)(180,227.5)(0,228.5)(0,nan)
(180,230)(0,231)(0,nan)(180,232.5)(0,233.5)(0,nan)(180,235)(0,236)(0,nan)(180,237.5)(0,238.5)(0,nan)
(180,240)(0,241)(0,nan)(180,242.5)(0,243.5)(0,nan)(180,245)(0,246)(0,nan)(180,247.5)(0,248.5)(0,nan)
(180,250)(0,251)(0,nan)(180,252.5)(0,253.5)(0,nan)(180,255)(0,256)(0,nan)(180,257.5)(0,258.5)(0,nan)
(180,260)(0,261)(0,nan)(180,262.5)(0,263.5)(0,nan)(180,265)(0,266)(0,nan)(180,267.5)(0,268.5)(0,nan)
(180,270)(0,271)(0,nan)(180,272.5)(0,273.5)(0,nan)(180,275)(0,276)(0,nan)(180,277.5)(0,278.5)(0,nan)
(180,280)(0,281)(0,nan)(180,282.5)(0,283.5)(0,nan)(180,285)(0,286)(0,nan)(180,287.5)(0,288.5)(0,nan)
(180,290)(0,291)(0,nan)(180,292.5)(0,293.5)(0,nan)(180,295)(0,296)(0,nan)(180,297.5)(0,298.5)(0,nan)
(180,300)(0,301)(0,nan)(180,302.5)(0,303.5)(0,nan)(180,305)(0,306)(0,nan)(180,307.5)(0,308.5)(0,nan)
(180,310)(0,311)(0,nan)(180,312.5)(0,313.5)(0,nan)(180,315)(0,316)(0,nan)(180,317.5)(0,318.5)(0,nan)
(180,320)(0,321)(0,nan)(180,322.5)(0,323.5)(0,nan)(180,325)(0,326)(0,nan)(180,327.5)(0,328.5)(0,nan)
(180,330)(0,331)(0,nan)(180,332.5)(0,333.5)(0,nan)(180,335)(0,336)(0,nan)(180,337.5)(0,338.5)(0,nan)
(180,340)(0,341)(0,nan)(180,342.5)(0,343.5)(0,nan)(180,345)(0,346)(0,nan)(180,347.5)(0,348.5)(0,nan)
(180,350)(0,351)(0,nan)(180,352.5)(0,353.5)(0,nan)(180,355)(0,356)(0,nan)(180,357.5)(0,358.5)
};
\end{axis}
\begin{axis}[msp=114.8]\curves{\tabAa}{0}\curves{\tabAb}{2.5}\end{axis}
\begin{axis}[msp=169.8]\curves{\tabBa}{0}\curves{\tabBb}{2.5}\end{axis}
\begin{axis}[msp=224.8]\curves{\tabCa}{0}\curves{\tabCb}{2.5}\end{axis}
\begin{axis}[msp=279.8]\curves{\tabDa}{0}\curves{\tabDb}{2.5}\end{axis}
\begin{axis}[msp=334.8]\curves{\tabEa}{0}\curves{\tabEb}{2.5}\end{axis}
\begin{axis}[msp=389.8]\curves{\tabFa}{0}\curves{\tabFb}{2.5}\end{axis}
\begin{axis}[msp=444.8]\curves{\tabGa}{0}\curves{\tabGb}{2.5}\end{axis}
\begin{axis}[msp=499.8]\curves{\tabHa}{0}\curves{\tabHb}{2.5}\end{axis}

\node[rotate=90, font=\fontsize{20}{24}\selectfont] at (20bp,426bp) {Meridian Scanning Photomter at SYOWA};
\node[rotate=90, anchor=east, inner sep=0pt, font=\fontsize{13.7}{16}\selectfont] at (53bp,775bp) {2026 08/09 01:30:22UT - 2026 08/09 02:00:22UT};
\foreach \i/\lab in {0/ANGLE,1/CH1,2/CH2,3/CH3,4/CH4,5/CH5,6/CH6,7/CH7,8/CH8}{
  \node[rotate=90, anchor=west, inner sep=0pt, font=\fontsize{13.7}{16}\selectfont] at ({(53.3+55*\i)*1bp},85bp) {22.5 (deg)/div};
  \node[rotate=180, inner sep=0pt, font=\fontsize{10}{12}\selectfont] at ({(80.8+55*\i)*1bp},72bp) {\lab};
  \node[rotate=90, anchor=east, inner sep=0pt, font=\fontsize{9.2}{11}\selectfont] at ({(65+55*\i)*1bp},65bp) {180.0};
  \node[rotate=90, anchor=east, inner sep=0pt, font=\fontsize{9.2}{11}\selectfont] at ({(95+55*\i)*1bp},65bp) {0.0};
}
\foreach \k/\t in {0/0130,1/0140,2/0150,3/0200}{
  \node[rotate=90, inner sep=0pt, font=\fontsize{14}{16}\selectfont] at (550bp,{(80.8+231.8*\k)*1bp}) {\t};
}
\node[rotate=90, font=\fontsize{18}{21}\selectfont] at (575bp,427bp) {TIME(UT)};
\end{tikzpicture}
\end{document}
